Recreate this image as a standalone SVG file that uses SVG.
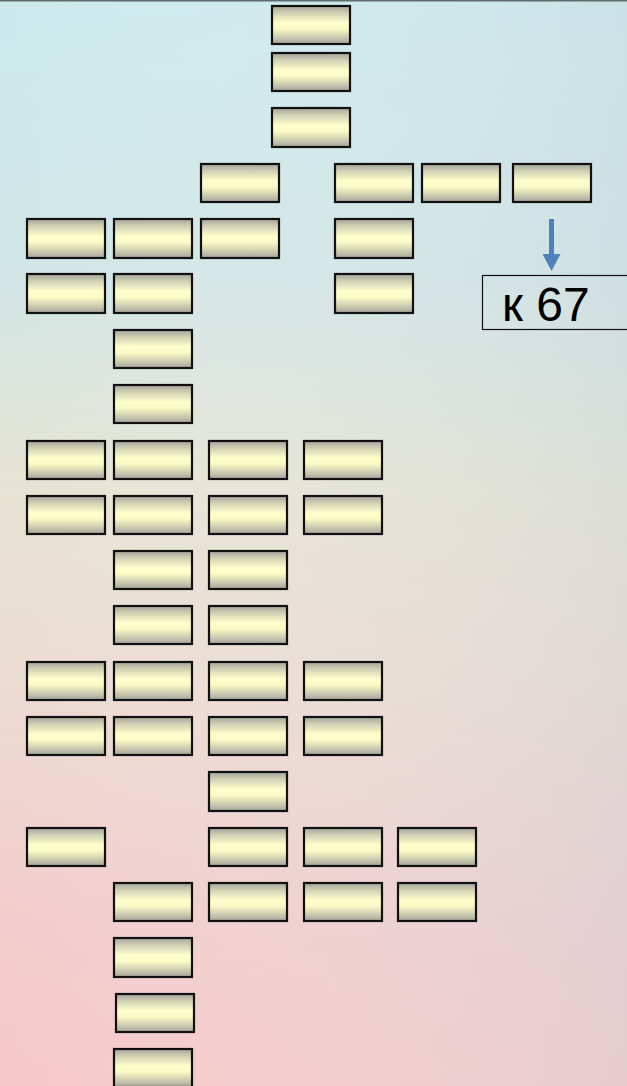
<svg xmlns="http://www.w3.org/2000/svg" width="627" height="1086" viewBox="0 0 627 1086">
<defs>
<linearGradient id="bgV" x1="0" y1="0" x2="0" y2="1">
<stop offset="0" stop-color="#cbeaee"/>
<stop offset="0.25" stop-color="#d2e6e6"/>
<stop offset="0.45" stop-color="#e6e4d4"/>
<stop offset="0.62" stop-color="#ecdcd2"/>
<stop offset="0.85" stop-color="#f2cccc"/>
<stop offset="1" stop-color="#f6c8c8"/>
</linearGradient>
<linearGradient id="bgH" x1="0" y1="0" x2="1" y2="0">
<stop offset="0" stop-color="#ffffff" stop-opacity="0"/>
<stop offset="1" stop-color="#c8d4dc" stop-opacity="0.35"/>
</linearGradient>
<linearGradient id="boxG" x1="0" y1="0" x2="0" y2="1">
<stop offset="0" stop-color="#a4a49c"/>
<stop offset="0.2" stop-color="#d4d4b6"/>
<stop offset="0.45" stop-color="#ffffcc"/>
<stop offset="0.6" stop-color="#fafac6"/>
<stop offset="0.85" stop-color="#c6c6ae"/>
<stop offset="1" stop-color="#a4a49c"/>
</linearGradient>
<marker id="arrowHead" markerWidth="17" markerHeight="18" refX="0" refY="9" orient="auto" markerUnits="userSpaceOnUse" viewBox="0 0 17 18">
<path d="M0,0 L17,9 L0,18 Z" fill="#4f81bd"/>
</marker>
</defs>
<style>
.box{fill:url(#boxG);stroke:#111;stroke-width:2.2}
.lbl{fill:none;stroke:#111;stroke-width:1.2}
.txt{font-family:"Liberation Sans",Arial,sans-serif;font-size:48px;fill:#000}
</style>
<rect x="0" y="0" width="627" height="1086" fill="url(#bgV)"/>
<rect x="0" y="0" width="627" height="1086" fill="url(#bgH)"/>
<rect x="0" y="0" width="627" height="1.5" fill="#5e6a6c"/>
<g id="nodes">
<g id="n1"><rect class="box" x="272" y="6" width="78" height="38"/></g>
<g id="n2"><rect class="box" x="272" y="53" width="78" height="38"/></g>
<g id="n3"><rect class="box" x="272" y="108" width="78" height="39"/></g>
<g id="n4"><rect class="box" x="201" y="164" width="78" height="38"/></g>
<g id="n5"><rect class="box" x="335" y="164" width="78" height="38"/></g>
<g id="n6"><rect class="box" x="422" y="164" width="78" height="38"/></g>
<g id="n7"><rect class="box" x="513" y="164" width="78" height="38"/></g>
<g id="n8"><rect class="box" x="27" y="219" width="78" height="39"/></g>
<g id="n9"><rect class="box" x="114" y="219" width="78" height="39"/></g>
<g id="n10"><rect class="box" x="201" y="219" width="78" height="39"/></g>
<g id="n11"><rect class="box" x="335" y="219" width="78" height="39"/></g>
<g id="n12"><rect class="box" x="27" y="274" width="78" height="39"/></g>
<g id="n13"><rect class="box" x="114" y="274" width="78" height="39"/></g>
<g id="n14"><rect class="box" x="335" y="274" width="78" height="39"/></g>
<g id="n15"><rect class="box" x="114" y="330" width="78" height="38"/></g>
<g id="n16"><rect class="box" x="114" y="385" width="78" height="38"/></g>
<g id="n17"><rect class="box" x="27" y="441" width="78" height="38"/></g>
<g id="n18"><rect class="box" x="114" y="441" width="78" height="38"/></g>
<g id="n19"><rect class="box" x="209" y="441" width="78" height="38"/></g>
<g id="n20"><rect class="box" x="304" y="441" width="78" height="38"/></g>
<g id="n21"><rect class="box" x="27" y="496" width="78" height="38"/></g>
<g id="n22"><rect class="box" x="114" y="496" width="78" height="38"/></g>
<g id="n23"><rect class="box" x="209" y="496" width="78" height="38"/></g>
<g id="n24"><rect class="box" x="304" y="496" width="78" height="38"/></g>
<g id="n25"><rect class="box" x="114" y="551" width="78" height="38"/></g>
<g id="n26"><rect class="box" x="209" y="551" width="78" height="38"/></g>
<g id="n27"><rect class="box" x="114" y="606" width="78" height="38"/></g>
<g id="n28"><rect class="box" x="209" y="606" width="78" height="38"/></g>
<g id="n29"><rect class="box" x="27" y="662" width="78" height="38"/></g>
<g id="n30"><rect class="box" x="114" y="662" width="78" height="38"/></g>
<g id="n31"><rect class="box" x="209" y="662" width="78" height="38"/></g>
<g id="n32"><rect class="box" x="304" y="662" width="78" height="38"/></g>
<g id="n33"><rect class="box" x="27" y="717" width="78" height="38"/></g>
<g id="n34"><rect class="box" x="114" y="717" width="78" height="38"/></g>
<g id="n35"><rect class="box" x="209" y="717" width="78" height="38"/></g>
<g id="n36"><rect class="box" x="304" y="717" width="78" height="38"/></g>
<g id="n37"><rect class="box" x="209" y="772" width="78" height="39"/></g>
<g id="n38"><rect class="box" x="27" y="828" width="78" height="38"/></g>
<g id="n39"><rect class="box" x="209" y="828" width="78" height="38"/></g>
<g id="n40"><rect class="box" x="304" y="828" width="78" height="38"/></g>
<g id="n41"><rect class="box" x="398" y="828" width="78" height="38"/></g>
<g id="n42"><rect class="box" x="114" y="883" width="78" height="38"/></g>
<g id="n43"><rect class="box" x="209" y="883" width="78" height="38"/></g>
<g id="n44"><rect class="box" x="304" y="883" width="78" height="38"/></g>
<g id="n45"><rect class="box" x="398" y="883" width="78" height="38"/></g>
<g id="n46"><rect class="box" x="114" y="938" width="78" height="39"/></g>
<g id="n47"><rect class="box" x="116" y="994" width="78" height="38"/></g>
<g id="n48"><rect class="box" x="114" y="1049" width="78" height="38"/></g>
<g id="label67"><rect class="lbl" x="482.5" y="275.5" width="150" height="54"/><text class="txt" x="502" y="321">к 67</text></g>
</g>
<g id="connectors">
<line x1="551.5" y1="219" x2="551.5" y2="254" stroke="#4f81bd" stroke-width="5" marker-end="url(#arrowHead)"/>
</g>
</svg>
